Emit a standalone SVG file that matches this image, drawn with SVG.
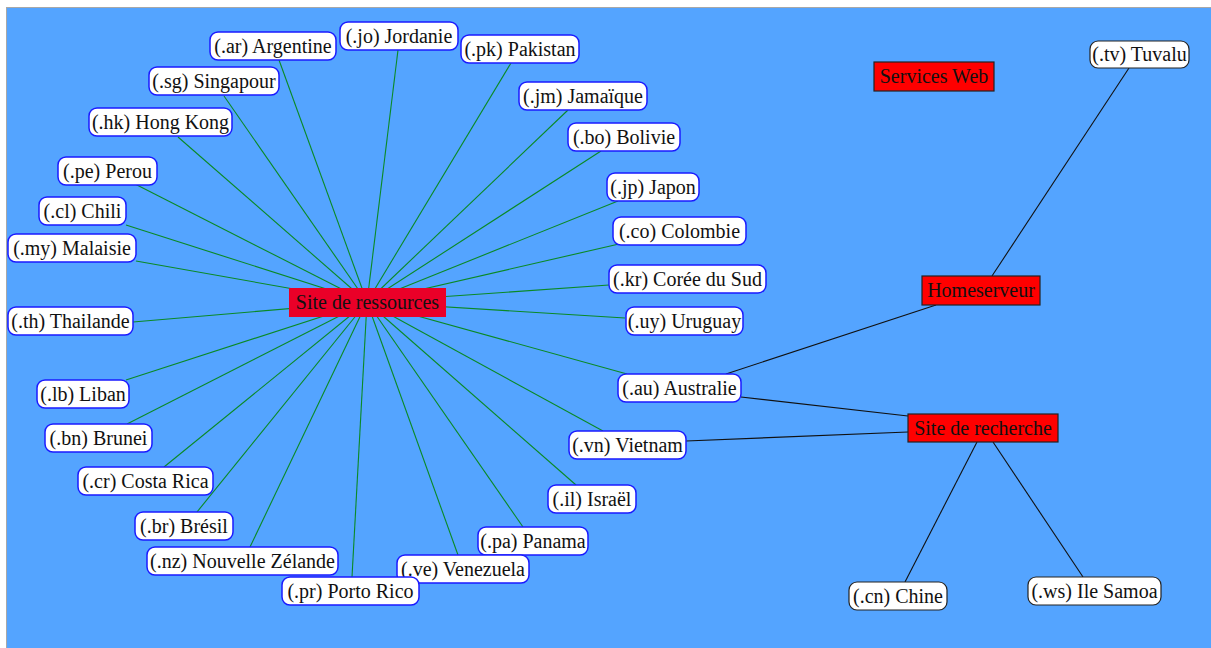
<svg xmlns="http://www.w3.org/2000/svg" width="1211" height="648" viewBox="0 0 1211 648">
<style>
.n rect{fill:#fff;stroke:#1a1aff;stroke-width:1.5}
.b rect{fill:#fff;stroke:#222;stroke-width:1.2}
.r rect{fill:#ff0000;stroke:#222;stroke-width:1.2}
text{font-family:"Liberation Serif","Times New Roman",serif;font-size:20px;fill:#111;text-anchor:middle}
#edges-green line{stroke:#0a8a25;stroke-width:1.1}
#edges-black line{stroke:#111;stroke-width:1.1}
</style>
<rect x="0" y="0" width="1211" height="648" fill="#fff"/>
<rect x="6.5" y="7.5" width="1210" height="645" fill="#54a4ff" stroke="#a8a8a8" stroke-width="1"/>
<g id="edges-green">
<line x1="367" y1="302" x2="279" y2="60"/>
<line x1="367" y1="302" x2="398" y2="50"/>
<line x1="367" y1="302" x2="511" y2="63"/>
<line x1="367" y1="302" x2="568" y2="110"/>
<line x1="367" y1="302" x2="601" y2="151"/>
<line x1="367" y1="302" x2="618" y2="201"/>
<line x1="367" y1="302" x2="619" y2="244"/>
<line x1="367" y1="302" x2="609" y2="285"/>
<line x1="367" y1="302" x2="625" y2="318"/>
<line x1="367" y1="302" x2="627" y2="374"/>
<line x1="367" y1="302" x2="603" y2="431"/>
<line x1="367" y1="302" x2="576" y2="485"/>
<line x1="367" y1="302" x2="523" y2="527"/>
<line x1="367" y1="302" x2="458" y2="555"/>
<line x1="367" y1="302" x2="352" y2="577"/>
<line x1="367" y1="302" x2="250" y2="547"/>
<line x1="367" y1="302" x2="197" y2="512"/>
<line x1="367" y1="302" x2="164" y2="467"/>
<line x1="367" y1="302" x2="127" y2="424"/>
<line x1="367" y1="302" x2="126" y2="380"/>
<line x1="367" y1="302" x2="133" y2="322"/>
<line x1="367" y1="302" x2="136" y2="261"/>
<line x1="367" y1="302" x2="126" y2="225"/>
<line x1="367" y1="302" x2="135" y2="184"/>
<line x1="367" y1="302" x2="178" y2="137"/>
<line x1="367" y1="302" x2="224" y2="96"/>
</g>
<g id="edges-black">
<line x1="1129" y1="68" x2="992" y2="276"/>
<line x1="936" y1="305" x2="726" y2="374"/>
<line x1="741" y1="397" x2="908" y2="416"/>
<line x1="686" y1="441" x2="908" y2="432"/>
<line x1="977" y1="442" x2="905" y2="582"/>
<line x1="993" y1="442" x2="1083" y2="577"/>
</g>
<g id="n-ar" class="n"><rect x="210" y="32" width="126" height="28" rx="8"/><text x="273" y="52.5">(.ar) Argentine</text></g>
<g id="n-jo" class="n"><rect x="340" y="22" width="118" height="28" rx="8"/><text x="399" y="42.5">(.jo) Jordanie</text></g>
<g id="n-pk" class="n"><rect x="461" y="35" width="118" height="28" rx="8"/><text x="520" y="55.5">(.pk) Pakistan</text></g>
<g id="n-jm" class="n"><rect x="519" y="82" width="128" height="28" rx="8"/><text x="583" y="102.5">(.jm) Jamaïque</text></g>
<g id="n-bo" class="n"><rect x="568" y="123" width="112" height="28" rx="8"/><text x="624" y="143.5">(.bo) Bolivie</text></g>
<g id="n-jp" class="n"><rect x="607" y="173" width="92" height="28" rx="8"/><text x="653" y="193.5">(.jp) Japon</text></g>
<g id="n-co" class="n"><rect x="613" y="217" width="133" height="28" rx="8"/><text x="679.5" y="237.5">(.co) Colombie</text></g>
<g id="n-kr" class="n"><rect x="609" y="265" width="157" height="28" rx="8"/><text x="687.5" y="285.5">(.kr) Corée du Sud</text></g>
<g id="n-uy" class="n"><rect x="626" y="307" width="117" height="28" rx="8"/><text x="684.5" y="327.5">(.uy) Uruguay</text></g>
<g id="n-au" class="n"><rect x="618" y="374" width="123" height="28" rx="8"/><text x="679.5" y="394.5">(.au) Australie</text></g>
<g id="n-vn" class="n"><rect x="569" y="431" width="117" height="28" rx="8"/><text x="627.5" y="451.5">(.vn) Vietnam</text></g>
<g id="n-il" class="n"><rect x="548" y="485" width="88" height="28" rx="8"/><text x="592" y="505.5">(.il) Israël</text></g>
<g id="n-pa" class="n"><rect x="478" y="527" width="110" height="28" rx="8"/><text x="533" y="547.5">(.pa) Panama</text></g>
<g id="n-ve" class="n"><rect x="397" y="555" width="132" height="28" rx="8"/><text x="463" y="575.5">(.ve) Venezuela</text></g>
<g id="n-pr" class="n"><rect x="282" y="577" width="137" height="28" rx="8"/><text x="350.5" y="597.5">(.pr) Porto Rico</text></g>
<g id="n-nz" class="n"><rect x="147" y="547" width="191" height="28" rx="8"/><text x="242.5" y="567.5">(.nz) Nouvelle Zélande</text></g>
<g id="n-br" class="n"><rect x="135" y="512" width="98" height="28" rx="8"/><text x="184" y="532.5">(.br) Brésil</text></g>
<g id="n-cr" class="n"><rect x="78" y="467" width="135" height="28" rx="8"/><text x="145.5" y="487.5">(.cr) Costa Rica</text></g>
<g id="n-bn" class="n"><rect x="45" y="424" width="107" height="28" rx="8"/><text x="98.5" y="444.5">(.bn) Brunei</text></g>
<g id="n-lb" class="n"><rect x="37" y="380" width="92" height="28" rx="8"/><text x="83" y="400.5">(.lb) Liban</text></g>
<g id="n-th" class="n"><rect x="8" y="307" width="125" height="28" rx="8"/><text x="70.5" y="327.5">(.th) Thailande</text></g>
<g id="n-my" class="n"><rect x="8" y="234" width="128" height="28" rx="8"/><text x="72" y="254.5">(.my) Malaisie</text></g>
<g id="n-cl" class="n"><rect x="39" y="197" width="87" height="28" rx="8"/><text x="82.5" y="217.5">(.cl) Chili</text></g>
<g id="n-pe" class="n"><rect x="58" y="157" width="99" height="28" rx="8"/><text x="107.5" y="177.5">(.pe) Perou</text></g>
<g id="n-hk" class="n"><rect x="89" y="108" width="143" height="28" rx="8"/><text x="160.5" y="128.5">(.hk) Hong Kong</text></g>
<g id="n-sg" class="n"><rect x="149" y="67" width="130" height="28" rx="8"/><text x="214" y="87.5">(.sg) Singapour</text></g>
<g id="n-tv" class="b"><rect x="1090" y="41" width="99" height="27" rx="8"/><text x="1139.5" y="61">(.tv) Tuvalu</text></g>
<g id="n-cn" class="b"><rect x="849" y="582" width="98" height="28" rx="8"/><text x="898" y="602.5">(.cn) Chine</text></g>
<g id="n-ws" class="b"><rect x="1028" y="577" width="133" height="28" rx="8"/><text x="1094.5" y="597.5">(.ws) Ile Samoa</text></g>
<g id="n-services" class="r"><rect x="874" y="62" width="120" height="29"/><text x="934" y="83">Services Web</text></g>
<g id="n-home" class="r"><rect x="922" y="276" width="118" height="29"/><text x="981" y="297">Homeserveur</text></g>
<g id="n-recherche" class="r"><rect x="908" y="414" width="150" height="28"/><text x="983" y="434.5">Site de recherche</text></g>
<g id="n-ressources"><rect x="289" y="288" width="157" height="29" fill="#ea0028"/><text x="367.5" y="309">Site de ressources</text></g>
</svg>
